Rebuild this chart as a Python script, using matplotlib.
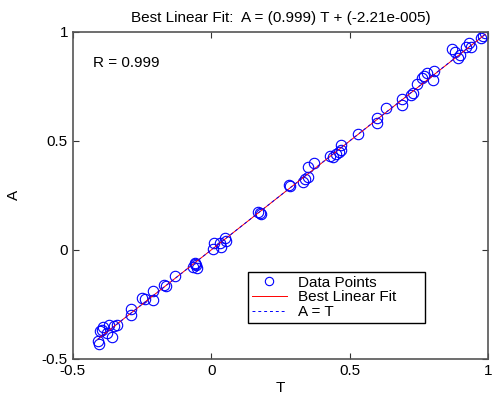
import matplotlib
matplotlib.use("Agg")
import matplotlib.pyplot as plt

# pontos (alvo T, saida A)
T = [-0.40, -0.41, -0.405, -0.39, -0.37, -0.375, -0.35, -0.34, -0.395, -0.36,
     -0.29, -0.29, -0.25, -0.24, -0.21, -0.21, -0.17, -0.165, -0.13,
     -0.06, -0.065, -0.055, -0.05, -0.06,
     0.005, 0.01, 0.03, 0.05, 0.055, 0.035,
     0.17, 0.18, 0.175, 0.28, 0.285, 0.33, 0.35, 0.35, 0.37, 0.34,
     0.43, 0.45, 0.47, 0.47, 0.44, 0.46, 0.53, 0.60, 0.60,
     0.63, 0.69, 0.69, 0.72, 0.745, 0.76, 0.78, 0.80, 0.805, 0.77, 0.73,
     0.87, 0.89, 0.90, 0.88, 0.93, 0.94, 0.92, 0.98, 0.99, 0.975]
A = [-0.37, -0.42, -0.43, -0.355, -0.345, -0.38, -0.35, -0.345, -0.365, -0.40,
     -0.27, -0.30, -0.22, -0.225, -0.19, -0.23, -0.16, -0.165, -0.12,
     -0.06, -0.08, -0.07, -0.085, -0.065,
     0.005, 0.03, 0.03, 0.055, 0.04, 0.015,
     0.175, 0.165, 0.17, 0.30, 0.295, 0.31, 0.335, 0.38, 0.40, 0.325,
     0.43, 0.44, 0.46, 0.48, 0.425, 0.45, 0.53, 0.58, 0.605,
     0.65, 0.69, 0.665, 0.71, 0.76, 0.79, 0.81, 0.78, 0.82, 0.80, 0.72,
     0.92, 0.88, 0.895, 0.91, 0.95, 0.93, 0.93, 0.98, 0.995, 0.97]

m, b = 0.999, -2.21e-5
R = 0.999

plt.rcParams["font.family"] = ["Liberation Sans", "DejaVu Sans"]
fs = 11

fig = plt.figure(figsize=(4.92, 3.94), dpi=100)
ax = fig.add_axes([0.148, 0.089, 0.844, 0.830])

ax.plot(T, A, "o", mfc="none", mec="blue", ms=7.5, mew=0.8, label="Data Points")
t0, t1 = min(T), max(T)
ax.plot([t0, t1], [m * t0 + b, m * t1 + b], color="red", lw=0.7, label="Best Linear Fit")
ax.plot([t0, t1], [t0, t1], color="blue", lw=0.7, ls=(0, (3, 3)), label="A = T")

ax.set_xlim(-0.5, 1)
ax.set_ylim(-0.5, 1)
ax.set_xticks([-0.5, 0, 0.5, 1])
ax.set_yticks([-0.5, 0, 0.5, 1])
ax.set_xticklabels(["-0.5", "0", "0.5", "1"])
ax.set_yticklabels(["-0.5", "0", "0.5", "1"])
ax.tick_params(direction="in", top=True, right=True, length=4, width=0.8,
               labelsize=fs, colors="#333333", labelcolor="black")
for s in ax.spines.values():
    s.set_color("#555555")
    s.set_linewidth(1.2)

ax.set_xlabel("T", fontsize=fs)
ax.xaxis.set_label_coords(0.5, -0.068)
ax.set_ylabel("A", fontsize=fs)
ax.yaxis.set_label_coords(-0.125, 0.5)
ax.set_title(f"Best Linear Fit:  A = ({m:.3f}) T + (-2.21e-005)", fontsize=fs, pad=7)
ax.text(0.048, 0.905, f"R = {R:.3f}", transform=ax.transAxes, fontsize=fs, va="center")

leg = ax.legend(loc="lower left", bbox_to_anchor=(0.422, 0.11, 0.427, 0.171), mode="expand",
                fontsize=fs, fancybox=False, framealpha=1, edgecolor="black",
                borderaxespad=0, numpoints=1, markerscale=0.8, handlelength=2.3,
                handletextpad=0.7, labelspacing=0.05, borderpad=0.25)
leg.get_frame().set_linewidth(1.0)

fig.savefig("out.png", dpi=100)
plt.close(fig)
